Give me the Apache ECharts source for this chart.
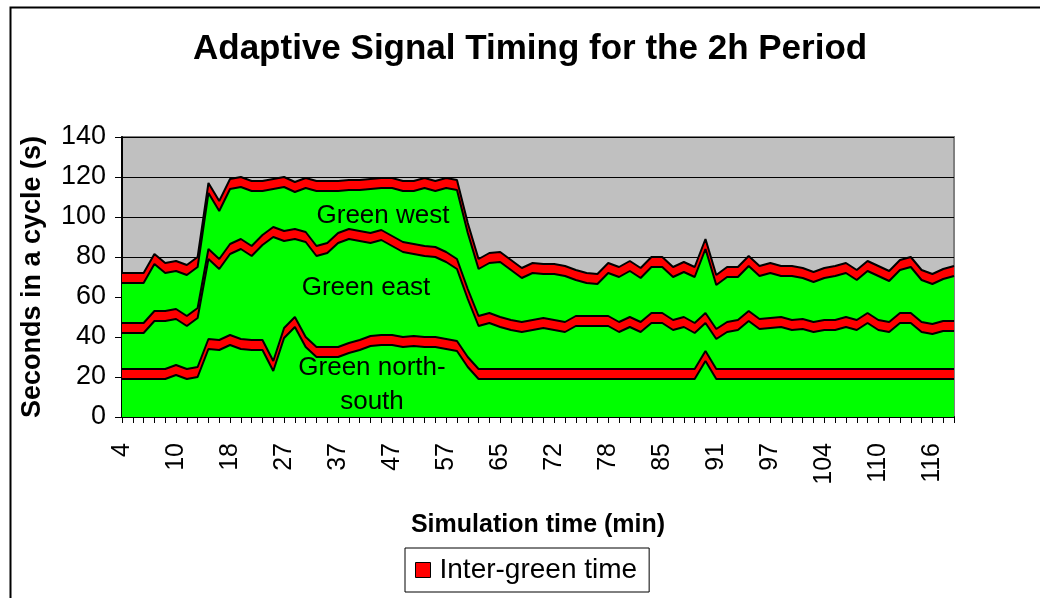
<!DOCTYPE html>
<html>
<head>
<meta charset="utf-8">
<script src="https://cdn.jsdelivr.net/npm/echarts@6/dist/echarts.min.js"></script>
<style>
  html, body { margin: 0; padding: 0; background: #fff; }
  #chart { width: 1040px; height: 598px; }
</style>
</head>
<body>
<div id="chart"></div>
<script>
// simulation time (min) at the end of each cycle
const times = [4, 5, 6, 8, 9, 10, 11, 13, 14, 16,
  18, 20, 22, 24, 25, 27, 29, 31, 33, 35,
  37, 39, 41, 43, 45, 47, 49, 51, 53, 55,
  57, 59, 61, 63, 64, 65, 66, 68, 69, 70,
  72, 73, 74, 76, 77, 78, 79, 81, 82, 83,
  85, 86, 87, 89, 90, 91, 92, 93, 95, 96,
  97, 98, 100, 101, 102, 104, 105, 106, 108, 109,
  110, 111, 113, 114, 115, 116, 117, 119];

// upper edge of each inter-green band (s)
const nsTop = [24, 24, 24, 24, 24, 26, 24, 25, 39, 38.5,
  41, 39, 38.5, 38.5, 28, 44.5, 50, 40, 35, 35,
  35, 37, 38.5, 40.5, 41, 41, 40, 40.5, 40, 40,
  39, 38, 30, 24, 24, 24, 24, 24, 24, 24,
  24, 24, 24, 24, 24, 24, 24, 24, 24, 24,
  24, 24, 24, 24, 33, 24, 24, 24, 24, 24,
  24, 24, 24, 24, 24, 24, 24, 24, 24, 24,
  24, 24, 24, 24, 24, 24, 24, 24];
const eastTop = [47, 47, 47, 53, 53, 54, 50.5, 54.5, 84, 79,
  86.5, 89, 85.5, 91, 95, 93, 94, 92.5, 85.5, 87,
  92, 94, 93, 92, 93.5, 90.5, 87.5, 86.5, 85.5, 85,
  82.5, 79, 64, 50.5, 52, 50, 48.5, 47.5, 48.5, 49.5,
  48.5, 47.5, 50.5, 50.5, 50.5, 50.5, 47.5, 50, 47.5, 52,
  52, 48.5, 50, 47, 52, 44, 47.5, 48.5, 53, 49,
  49.5, 50, 48.5, 49, 47.5, 48.5, 48.5, 50, 48.5, 52,
  48.5, 47.5, 52, 52, 47.5, 46.5, 48, 48];
const westTop = [72, 72, 72, 81.5, 77, 78, 76, 80, 117, 108,
  119, 120, 118, 118, 119, 120, 117.5, 119.5, 118, 118,
  118, 118.5, 118.5, 119, 119.5, 119.5, 118, 118, 119.5, 118,
  119.5, 118.5, 97, 79, 82, 82.5, 78.5, 74.5, 77, 76.5,
  76.5, 75.5, 73.5, 72, 71.5, 77, 75, 78, 74.5, 80,
  80, 75, 77.5, 75, 89, 71, 75, 75, 80.5, 75.5,
  77, 75.5, 75.5, 74.5, 72.5, 74.5, 75.5, 77, 73.5, 78,
  75.5, 73, 78.5, 80, 73.5, 71.5, 74, 75.5];
const interGreen = 5;

const yTicks = [0, 140, 20];

// thickness of each stacked layer
const nsGreen = nsTop.map(v => +(v - interGreen).toFixed(1));
const eastGreen = eastTop.map((v, i) => +(v - nsTop[i] - interGreen).toFixed(1));
const westGreen = westTop.map((v, i) => +(v - eastTop[i] - interGreen).toFixed(1));
const ig = times.map(() => interGreen);

const FONT = "'Liberation Sans', Arial, sans-serif";
const GREEN = '#00ff00';
const RED = '#ff0000';

function layer(name, data, color, z) {
  return {
    name: name,
    type: 'line',
    stack: 'cycle',
    data: data,
    symbol: 'none',
    z: z,
    lineStyle: { color: '#000', width: 2 },
    itemStyle: { color: color },
    areaStyle: { color: color, opacity: 1 }
  };
}

let myChart = echarts.init(document.getElementById('chart'));
let option = {
  animation: false,
  textStyle: { fontFamily: FONT },
  title: {
    text: 'Adaptive Signal Timing for the 2h Period',
    left: 193,
    top: 32,
    padding: 0,
    textStyle: { fontSize: 35, fontWeight: 'bold', color: '#000', fontFamily: FONT }
  },
  legend: {
    data: [{ name: 'Inter-green time', icon: 'rect' }],
    left: 405,
    top: 548,
    padding: [8, 12, 8, 10],
    borderColor: '#000',
    borderWidth: 1,
    itemWidth: 15,
    itemHeight: 15,
    itemGap: 8,
    itemStyle: { borderColor: '#000', borderWidth: 1 },
    textStyle: { fontSize: 28, color: '#000', fontFamily: FONT, padding: [0, 0, 0, 4] }
  },
  grid: {
    left: 122,
    right: 86,
    top: 137,
    bottom: 181,
    show: true,
    backgroundColor: '#c0c0c0',
    borderColor: '#808080',
    borderWidth: 2
  },
  xAxis: {
    type: 'category',
    data: times,
    boundaryGap: false,
    name: 'Simulation time (min)',
    nameLocation: 'middle',
    nameGap: 96,
    nameTextStyle: { fontSize: 25, fontWeight: 'bold', color: '#000' },
    axisLine: { lineStyle: { color: '#000', width: 2 } },
    axisTick: { interval: 0, length: 6, lineStyle: { color: '#000' } },
    axisLabel: { interval: 4, rotate: 90, fontSize: 25, color: '#000', margin: 26 },
    splitLine: { show: false }
  },
  yAxis: {
    type: 'value',
    min: yTicks[0],
    max: yTicks[1],
    interval: yTicks[2],
    name: 'Seconds in a cycle (s)',
    nameLocation: 'middle',
    nameGap: 76,
    nameTextStyle: { fontSize: 27, fontWeight: 'bold', color: '#000' },
    axisLine: { show: true, lineStyle: { color: '#000', width: 2 } },
    axisTick: { show: true, length: 7, lineStyle: { color: '#000' } },
    axisLabel: { fontSize: 27, color: '#000', margin: 16 },
    splitLine: { lineStyle: { color: '#000', width: 1 } }
  },
  graphic: [
    {
      type: 'rect',
      left: 8, top: 5, z: -10,
      shape: { width: 1200, height: 800 },
      style: { fill: 'none', stroke: '#000', lineWidth: 2 }
    },
    {
      type: 'text', x: 383, y: 216, z: 100,
      style: { text: 'Green west', font: '26px ' + FONT, fill: '#000', textAlign: 'center', textVerticalAlign: 'middle' }
    },
    {
      type: 'text', x: 366, y: 288, z: 100,
      style: { text: 'Green east', font: '26px ' + FONT, fill: '#000', textAlign: 'center', textVerticalAlign: 'middle' }
    },
    {
      type: 'text', x: 372, y: 385, z: 100,
      style: { text: 'Green north-\nsouth', font: '26px ' + FONT, lineHeight: 34, fill: '#000', textAlign: 'center', textVerticalAlign: 'middle' }
    }
  ],
  series: [
    layer('Green north-south', nsGreen, GREEN, 16),
    layer('Inter-green time', ig, RED, 15),
    layer('Green east', eastGreen, GREEN, 14),
    layer('Inter-green time', ig, RED, 13),
    layer('Green west', westGreen, GREEN, 12),
    layer('Inter-green time', ig, RED, 11)
  ]
};
myChart.setOption(option);
</script>
</body>
</html>
